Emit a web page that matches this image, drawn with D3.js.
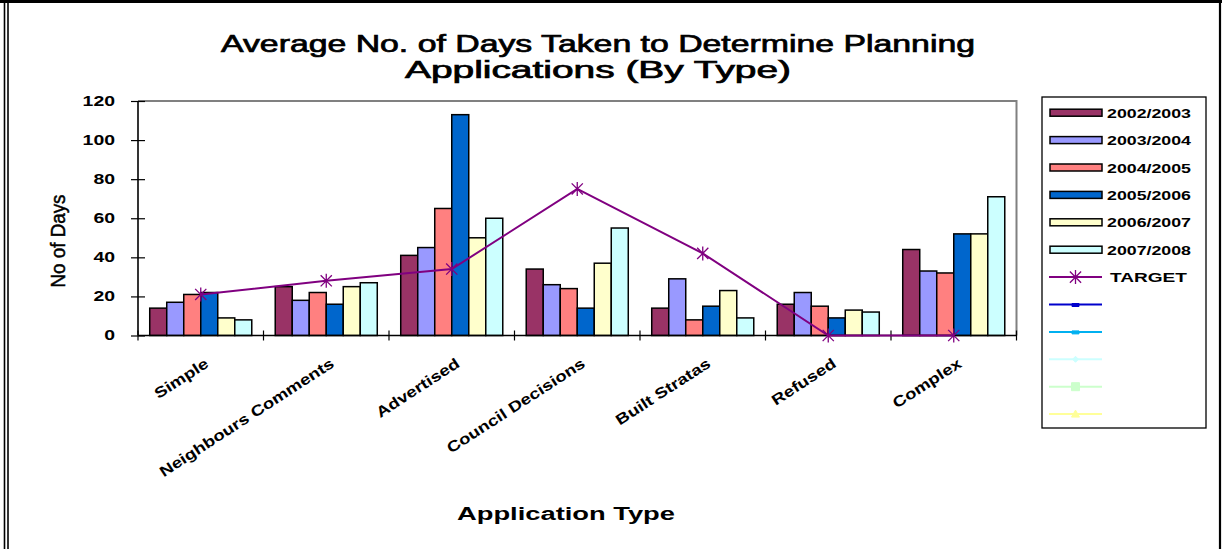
<!DOCTYPE html>
<html><head><meta charset="utf-8">
<script src="https://cdn.jsdelivr.net/npm/d3@7"></script>
<style>
html,body{margin:0;padding:0;background:#fff;}
svg{display:block;font-family:"Liberation Sans",Arial,sans-serif;}
</style></head>
<body>
<svg id="chart" width="1222" height="549"></svg>
<script>
const categories = ["Simple","Neighbours Comments","Advertised","Council Decisions","Built Stratas","Refused","Complex"];
const seriesNames = ["2002/2003","2003/2004","2004/2005","2005/2006","2006/2007","2007/2008"];
const v2002 = [14, 25, 41, 34, 14, 16, 44];
const v2003 = [17, 18, 45, 26, 29, 22, 33];
const v2004 = [21, 22, 65, 24, 8, 15, 32];
const v2005 = [22, 16, 113, 14, 15, 9, 52];
const v2006 = [9, 25, 50, 37, 23, 13, 52];
const v2007 = [8, 27, 60, 55, 9, 12, 71];
const target = [21, 28, 34, 75, 42, 0, 0];
const yTicks = [0, 20, 40, 60, 80, 100, 120];
const barColors = ["#993366","#9999FF","#FF8080","#0066CC","#FFFFCC","#CCFFFF"];
// empty legend-only series
const emptySeries = [
  {color:"#0000CC", marker:"dash"},
  {color:"#00B0F0", marker:"dash"},
  {color:"#CCFFFF", marker:"diamond"},
  {color:"#CCFFCC", marker:"square"},
  {color:"#FFFF99", marker:"triangle"}
];

const values = [v2002, v2003, v2004, v2005, v2006, v2007];
const svg = d3.select("#chart");

// outer frame
svg.append("rect").attr("x",0).attr("y",0).attr("width",1222).attr("height",3).attr("fill","#000");
svg.append("line").attr("x1",4.5).attr("x2",4.5).attr("y1",0).attr("y2",549).attr("stroke","#000").attr("stroke-width",1.6);
svg.append("line").attr("x1",8).attr("x2",8).attr("y1",3).attr("y2",549).attr("stroke","#000").attr("stroke-width",1.6);
svg.append("line").attr("x1",1220).attr("x2",1220).attr("y1",0).attr("y2",549).attr("stroke","#000").attr("stroke-width",2.2);

const pLeft = 138, pRight = 1016.5, pTop = 101, pBottom = 335.5;
const x0 = d3.scaleBand().domain(categories).range([pLeft, pRight]).padding(0);
const x1 = d3.scaleBand().domain(seriesNames).range([0, x0.bandwidth()]).paddingInner(0).paddingOuter(0.69);
const y = d3.scaleLinear().domain([0,120]).range([pBottom, pTop]);

// plot border (top/right gray)
svg.append("path").attr("d", `M${pLeft},${pTop}H${pRight}V${pBottom}`).attr("fill","none").attr("stroke","#808080").attr("stroke-width",2);

// title
const title = svg.append("g").attr("font-size",23).attr("fill","#000")
  .attr("stroke","#000").attr("stroke-width",0.7);
title.append("text").attr("x",598).attr("y",52).attr("text-anchor","middle")
  .attr("textLength",754).attr("lengthAdjust","spacingAndGlyphs")
  .text("Average No. of Days Taken to Determine Planning");
title.append("text").attr("x",598).attr("y",78).attr("text-anchor","middle")
  .attr("textLength",386).attr("lengthAdjust","spacingAndGlyphs")
  .text("Applications (By Type)");

// bars
const groups = svg.append("g").selectAll("g").data(seriesNames).join("g")
  .attr("fill", (d,i)=>barColors[i]);
groups.each(function(s, si){
  d3.select(this).selectAll("rect").data(values[si]).join("rect")
    .attr("x",(d,i)=>x0(categories[i]) + x1(s))
    .attr("width", x1.bandwidth())
    .attr("y", d=>y(d))
    .attr("height", d=>y(0)-y(d))
    .attr("stroke","#000").attr("stroke-width",1.5);
});

// y axis
const yAxis = d3.axisLeft(y).tickValues(yTicks).tickSize(0).tickPadding(0);
const yg = svg.append("g").attr("transform",`translate(${pLeft},0)`).call(yAxis);
yg.select(".domain").remove();
yg.selectAll("text").attr("x",-23).attr("font-size",14).attr("font-weight","bold").attr("fill","#000")
  .attr("font-family","Liberation Sans, Arial, sans-serif")
  .attr("textLength", d=>String(d).length*10.8).attr("lengthAdjust","spacingAndGlyphs");
yg.selectAll(".tick").append("line").attr("x1",-7).attr("x2",7).attr("stroke","#000").attr("stroke-width",1.2);
svg.append("line").attr("x1",pLeft).attr("x2",pLeft).attr("y1",pTop).attr("y2",pBottom).attr("stroke","#000").attr("stroke-width",1.6);

// x axis
svg.append("line").attr("x1",pLeft).attr("x2",pRight).attr("y1",pBottom).attr("y2",pBottom).attr("stroke","#000").attr("stroke-width",1.6);
const bounds = categories.map(c=>x0(c)).concat([pRight]);
svg.append("g").selectAll("line").data(bounds).join("line")
  .attr("x1",d=>d).attr("x2",d=>d).attr("y1",pBottom-5).attr("y2",pBottom+5)
  .attr("stroke","#000").attr("stroke-width",1.2);
svg.append("g").selectAll("text").data(categories).join("text")
  .attr("transform", d=>`translate(${x0(d)+x0.bandwidth()/2+9},366) rotate(-33)`)
  .attr("text-anchor","end").attr("font-size",15).attr("font-weight","bold").attr("fill","#000")
  .text(d=>d)
  .each(function(){
    const L = this.getComputedTextLength();
    d3.select(this).attr("textLength", L*1.24).attr("lengthAdjust","spacingAndGlyphs");
  });

// target line
const cx = d=>x0(d)+x0.bandwidth()/2;
const line = d3.line().x((d,i)=>cx(categories[i])).y(d=>y(d));
svg.append("path").datum(target).attr("d",line).attr("fill","none").attr("stroke","#800080").attr("stroke-width",2);
function starPath(x,yy,r){
  const a=r*0.8;
  return `M${x-a},${yy-a}L${x+a},${yy+a}M${x-a},${yy+a}L${x+a},${yy-a}M${x},${yy-r}L${x},${yy+r}`;
}
svg.append("g").selectAll("path").data(target).join("path")
  .attr("d",(d,i)=>starPath(cx(categories[i]), y(d), 7))
  .attr("stroke","#800080").attr("stroke-width",1.3).attr("fill","none");

// axis titles
svg.append("text").attr("transform","translate(65,241) rotate(-90)").attr("text-anchor","middle")
  .attr("font-size",21).attr("fill","#000").attr("stroke","#000").attr("stroke-width",0.5)
  .attr("textLength",93).attr("lengthAdjust","spacingAndGlyphs").text("No of Days");
svg.append("text").attr("x",566).attr("y",520).attr("text-anchor","middle")
  .attr("font-size",18).attr("font-weight","bold").attr("fill","#000")
  .attr("textLength",218).attr("lengthAdjust","spacingAndGlyphs").text("Application Type");

// legend
const lg = svg.append("g");
lg.append("rect").attr("x",1042).attr("y",97).attr("width",164).attr("height",331)
  .attr("fill","#fff").attr("stroke","#000").attr("stroke-width",1.3);
const rowY = i => 112.7 + i*27.4;
seriesNames.forEach((s,i)=>{
  lg.append("rect").attr("x",1050).attr("y",rowY(i)-3.5).attr("width",52).attr("height",7)
    .attr("fill",barColors[i]).attr("stroke","#000").attr("stroke-width",1.5);
  lg.append("text").attr("x",1107).attr("y",rowY(i)+5).attr("font-size",13.5).attr("font-weight","bold")
    .attr("textLength",84).attr("lengthAdjust","spacingAndGlyphs").text(s);
});
{
  const ty = rowY(6);
  lg.append("line").attr("x1",1049).attr("x2",1102).attr("y1",ty).attr("y2",ty).attr("stroke","#800080").attr("stroke-width",2);
  lg.append("path").attr("d",starPath(1075.5,ty,7)).attr("stroke","#800080").attr("stroke-width",1.3);
  lg.append("text").attr("x",1110).attr("y",ty+5).attr("font-size",13.5).attr("font-weight","bold")
    .attr("textLength",77).attr("lengthAdjust","spacingAndGlyphs").text("TARGET");
}
emptySeries.forEach((e,k)=>{
  const ty = rowY(7+k);
  lg.append("line").attr("x1",1049).attr("x2",1102).attr("y1",ty).attr("y2",ty).attr("stroke",e.color).attr("stroke-width",2);
  let m;
  if(e.marker==="dash") m = `M1072,${ty-1}h7v3h-7z`;
  else if(e.marker==="diamond") m = `M1075.5,${ty-3}l3,3l-3,3l-3,-3z`;
  else if(e.marker==="square") m = `M1071.5,${ty-4}h8v8h-8z`;
  else m = `M1075.5,${ty-4}l4,7h-8z`;
  lg.append("path").attr("d",m).attr("fill",e.color).attr("stroke",e.color);
});
</script>
</body></html>
